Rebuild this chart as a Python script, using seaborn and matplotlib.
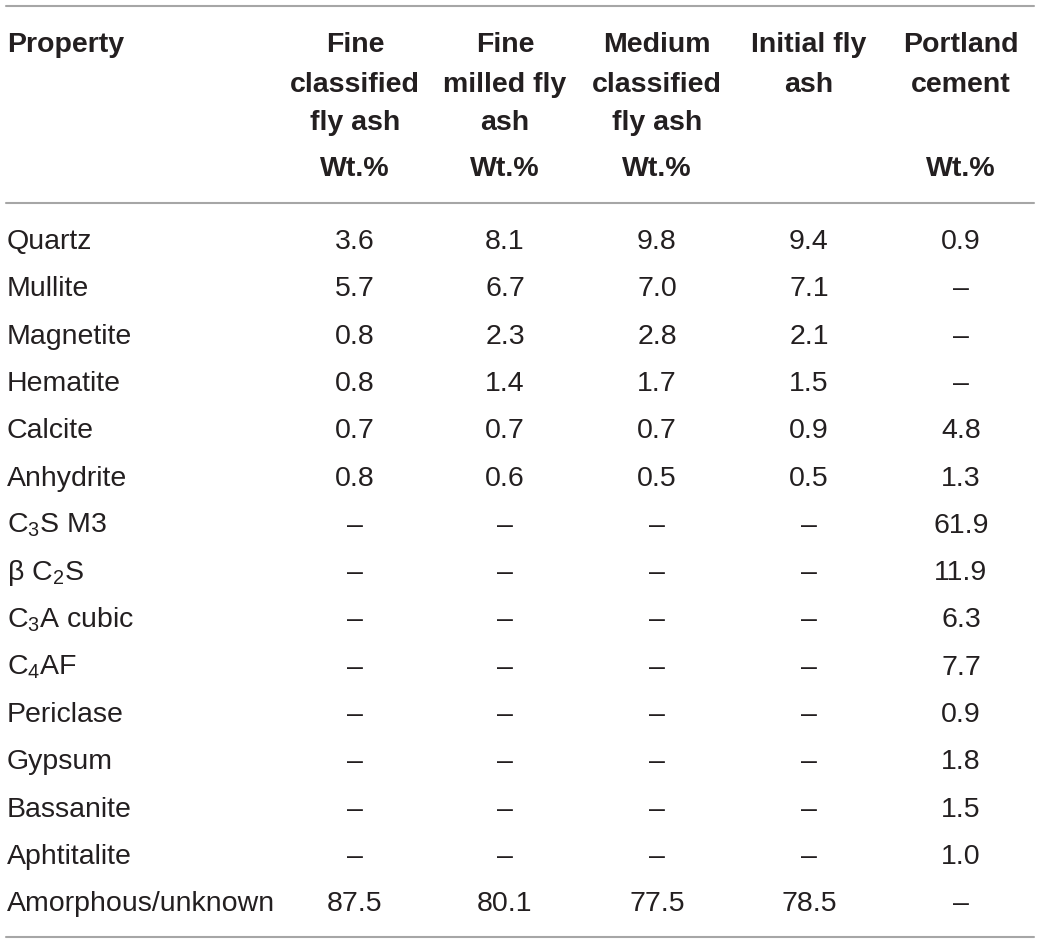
import matplotlib
matplotlib.use("Agg")
import matplotlib.pyplot as plt
import seaborn as sns

sns.set_theme(style="white")
plt.rcParams['font.family'] = ['Liberation Sans', 'DejaVu Sans']
plt.rcParams['mathtext.fontset'] = 'custom'
plt.rcParams['mathtext.rm'] = 'Liberation Sans'
plt.rcParams['mathtext.it'] = 'Liberation Sans:italic'
plt.rcParams['mathtext.bf'] = 'Liberation Sans:bold'

properties = ["Quartz", "Mullite", "Magnetite", "Hematite", "Calcite", "Anhydrite",
              r"C$_\mathregular{3}$S M3", r"β C$_\mathregular{2}$S",
              r"C$_\mathregular{3}$A cubic", r"C$_\mathregular{4}$AF",
              "Periclase", "Gypsum", "Bassanite", "Aphtitalite", "Amorphous/unknown"]

headers = [["Fine", "classified", "fly ash"],
           ["Fine", "milled fly", "ash"],
           ["Medium", "classified", "fly ash"],
           ["Initial fly", "ash"],
           ["Portland", "cement"]]
units = ["Wt.%", "Wt.%", "Wt.%", "", "Wt.%"]

fine_classified = ["3.6", "5.7", "0.8", "0.8", "0.7", "0.8", "–", "–", "–", "–", "–", "–", "–", "–", "87.5"]
fine_milled = ["8.1", "6.7", "2.3", "1.4", "0.7", "0.6", "–", "–", "–", "–", "–", "–", "–", "–", "80.1"]
medium_classified = ["9.8", "7.0", "2.8", "1.7", "0.7", "0.5", "–", "–", "–", "–", "–", "–", "–", "–", "77.5"]
initial = ["9.4", "7.1", "2.1", "1.5", "0.9", "0.5", "–", "–", "–", "–", "–", "–", "–", "–", "78.5"]
portland = ["0.9", "–", "–", "–", "4.8", "1.3", "61.9", "11.9", "6.3", "7.7", "0.9", "1.8", "1.5", "1.0", "–"]
columns = [fine_classified, fine_milled, medium_classified, initial, portland]

W, H = 1040, 943
fig = plt.figure(figsize=(W / 100, H / 100), dpi=100)
ax = fig.add_axes([0, 0, 1, 1])
ax.set_xlim(0, W)
ax.set_ylim(H, 0)
ax.axis("off")

txt = "#231f20"
fs = 20.5
col_x = [355, 505, 657, 809, 961]
row0, dy = 249, 47.3
hdr_y = [52, 91.5, 130.5]
unit_y = 176.5

line_kw = dict(color="#a6a6a6", lw=1.5)
ax.plot([6, 1034], [5.5, 5.5], **line_kw)
ax.plot([6, 1034], [203, 203], **line_kw)
ax.plot([6, 1034], [937, 937], **line_kw)

ax.text(7, hdr_y[0], "Property", ha="left", va="baseline", fontsize=fs, fontweight="bold", color=txt)
for x, hdr, u in zip(col_x, headers, units):
    for y, line in zip(hdr_y, hdr):
        ax.text(x, y, line, ha="center", va="baseline", fontsize=fs, fontweight="bold", color=txt)
    if u:
        ax.text(x, unit_y, u, ha="center", va="baseline", fontsize=fs, fontweight="bold", color=txt)

for i, p in enumerate(properties):
    y = row0 + i * dy
    ax.text(7, y, p, ha="left", va="baseline", fontsize=fs, color=txt)
    for x, col in zip(col_x, columns):
        ax.text(x, y, col[i], ha="center", va="baseline", fontsize=fs, color=txt)

fig.savefig("out.png", dpi=100)
